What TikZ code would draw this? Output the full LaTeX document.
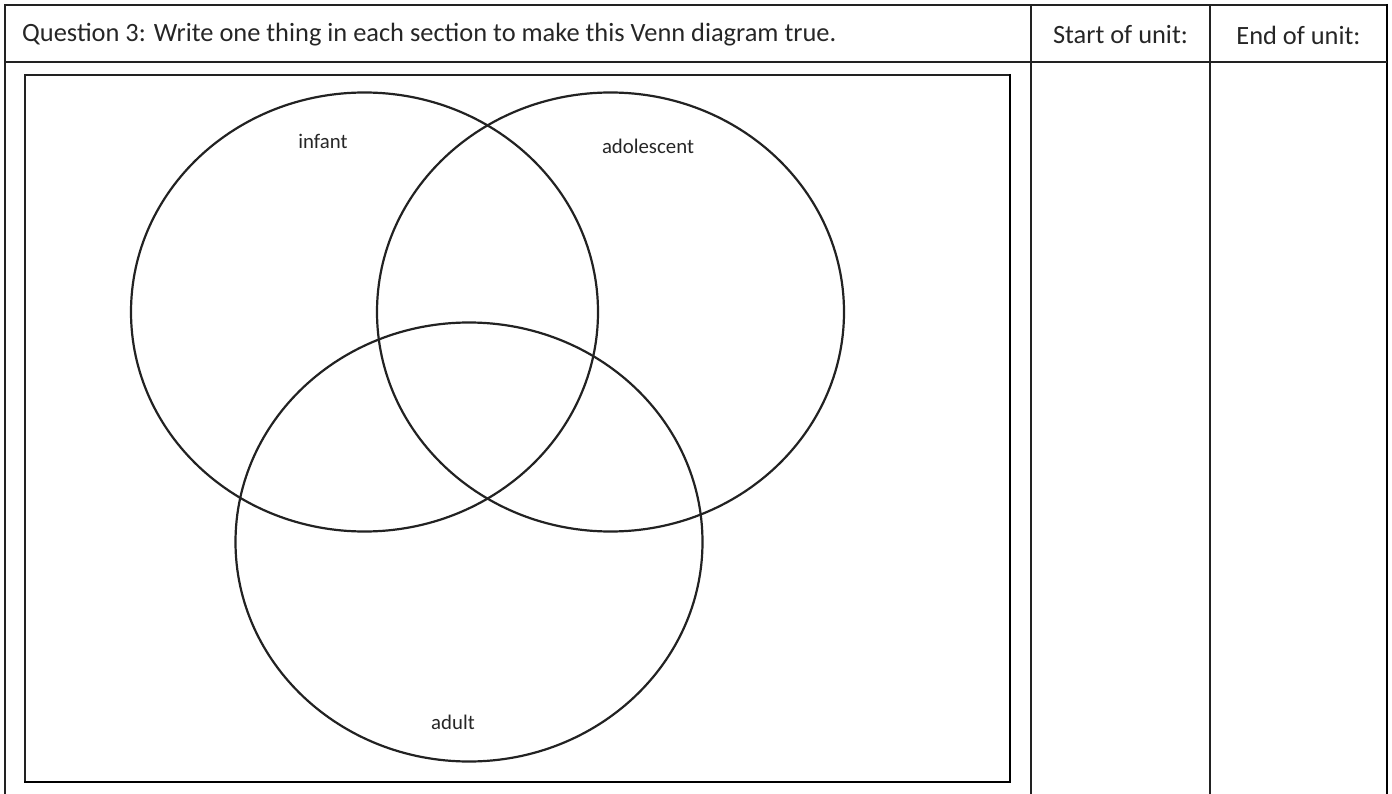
\documentclass[tikz,border=0pt]{standalone}
\usepackage{fontspec}
\setmainfont{Carlito}
\usetikzlibrary{positioning,shapes.geometric}
\definecolor{lineColor}{HTML}{222222}
\definecolor{textColor}{HTML}{262626}

\begin{document}
\begin{tikzpicture}[x=1pt,y=-1pt,%
    every node/.style={text=textColor,inner sep=0pt}]
    \tikzstyle{rule}=[draw=lineColor,line width=1.8pt]
    \tikzstyle{heavy}=[draw=black,line width=2.8pt]
    \tikzstyle{head}=[font=\fontsize{26.4}{30}\selectfont]
    % All set styles
    \tikzstyle{set}=[ellipse,draw=lineColor,line width=2.2pt,%
      minimum width=467pt,minimum height=439pt]
    \tikzstyle{setLabel}=[font=\fontsize{20.8}{24}\selectfont]
    \useasboundingbox (0,0) rectangle (1392,794);
    % Table frame
    \draw [rule] (5,794) -- (5,5) -- (1387,5);
    \draw [heavy] (1387,4) -- (1387,794);
    \draw [rule] (5,62) -- (1387,62);
    \draw [rule] (1031,5) -- (1031,794);
    \draw [rule] (1210,5) -- (1210,794);
    % Header cells
    \node (question) [head,anchor=west] at (22,35)
      {Question 3: Write one thing in each section to make this Venn diagram true.};
    \node (start) [head] at (1120.5,35) {Start of unit:};
    \node (end) [head] at (1298.5,35) {End of unit:};
    % Venn box
    \draw [rule] (25,782) -- (25,75) -- (1010,75);
    \draw [heavy] (1010,74) -- (1010,782) -- (24,782);
    % All sets
    \node (infant) [set] at (364.5,312) {};
    \node (adolescent) [set] at (610.5,312) {};
    \node (adult) [set] at (469,542) {};
    \node (infantLabel) [setLabel] at (323,141) {infant};
    \node (adolescentLabel) [setLabel] at (648,146) {adolescent};
    \node (adultLabel) [setLabel] at (453,722) {adult};
  \end{tikzpicture}
\end{document}
